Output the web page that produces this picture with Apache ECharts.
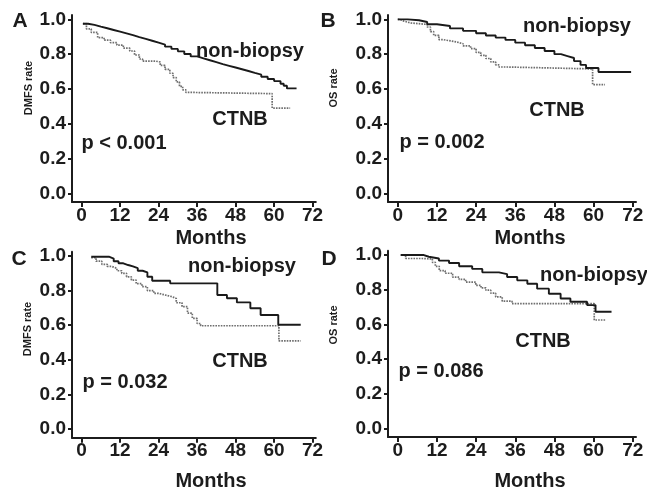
<!DOCTYPE html>
<html>
<head>
<meta charset="utf-8">
<script src="https://cdn.jsdelivr.net/npm/echarts@6/dist/echarts.min.js"></script>
<style>
html,body{margin:0;padding:0;background:#fff;}
#chart{width:647px;height:487px;}
</style>
</head>
<body>
<div id="chart"></div>
<script>
// ---------- DATA ----------
const xTicks = [0, 12, 24, 36, 48, 60, 72];
const yTicks = [0, 0.2, 0.4, 0.6, 0.8, 1.0];
const groupNames = ['non-biopsy', 'CTNB'];
const panelLetters = ['A', 'B', 'C', 'D'];
const yTitles = ['DMFS rate', 'OS rate', 'DMFS rate', 'OS rate'];
const pTexts = ['p < 0.001', 'p = 0.002', 'p = 0.032', 'p = 0.086'];

// Panel A (DMFS)
const aNonT = [0.4,2,4,6,8,10,12,14,16,18,20,22,24,26,28,30,32,34,36,38,40,42,44,46,48,50,52,54,56,58,60,62,63,64,67];
const aNonS = [0.975,0.968,0.958,0.949,0.939,0.929,0.919,0.909,0.898,0.888,0.877,0.866,0.855,0.843,0.830,0.816,0.801,0.787,0.776,0.765,0.754,0.743,0.733,0.723,0.713,0.703,0.692,0.682,0.670,0.657,0.645,0.630,0.618,0.603,0.603];
const aCtT = [0.4,1.5,3,5,7,9,11,13,15,16.5,18,19,23,24.5,26,27.5,28.5,29.5,30.5,31.5,32.5,34,59.4,65];
const aCtS = [0.975,0.945,0.925,0.895,0.880,0.866,0.852,0.835,0.818,0.795,0.772,0.760,0.755,0.735,0.712,0.690,0.665,0.640,0.615,0.595,0.580,0.573,0.490,0.490];

// Panel B (OS)
const bNonT = [0,3,6.5,9,12,16,20,24,27,30,33,36,39,42,45,48,50,52,54,56,57.7,61.5,71.5];
const bNonS = [1.0,0.995,0.985,0.972,0.962,0.948,0.934,0.920,0.907,0.895,0.882,0.866,0.851,0.835,0.818,0.800,0.789,0.778,0.760,0.738,0.720,0.697,0.697];
const bCtT = [0,0.8,1.8,4,6.5,9,10,11,12.6,14,16.2,18,20,22.3,24,25.4,27,28.5,30,31,33.6,59.7,63.5];
const bCtS = [1.0,0.990,0.979,0.975,0.971,0.956,0.930,0.908,0.883,0.876,0.870,0.860,0.848,0.832,0.810,0.793,0.775,0.755,0.738,0.726,0.715,0.625,0.625];

// Panel C (DMFS)
const cNonT = [3,8.5,10,11.5,13,14.5,16,17.5,19,20.5,22,27.6,42.3,45.3,48.4,52.6,55.8,61.3,68.3];
const cNonS = [0.996,0.985,0.970,0.958,0.948,0.940,0.930,0.915,0.905,0.880,0.857,0.842,0.775,0.756,0.732,0.698,0.659,0.603,0.603];
const cCtT = [3,4.5,6.3,8,9.4,11,12.5,14,15.5,17,18.8,20.5,22.5,24,26,28.2,29.5,31.3,33,34.5,36,37.1,61.5,68.3];
const cCtS = [0.990,0.970,0.952,0.940,0.929,0.915,0.900,0.880,0.861,0.840,0.823,0.800,0.784,0.775,0.765,0.755,0.730,0.707,0.670,0.640,0.610,0.597,0.510,0.510];

// Panel D (OS)
const dNonT = [0.9,8,9.5,12.6,15.7,18.8,22.8,25.9,31,33.5,36.6,39.7,42.7,46.3,49.9,52.9,58,60.6,65.5];
const dNonS = [1.0,0.990,0.980,0.968,0.954,0.935,0.920,0.900,0.890,0.873,0.854,0.834,0.806,0.777,0.749,0.730,0.711,0.673,0.673];
const dCtT = [0.9,2.4,7.5,10.6,11.5,12.7,14.5,16.8,18.8,20.8,23.9,25.5,27,28.5,30,32,35,60.2,63.8];
const dCtS = [1.0,0.980,0.977,0.958,0.935,0.910,0.895,0.873,0.860,0.844,0.825,0.810,0.797,0.780,0.758,0.734,0.720,0.625,0.625];

// ---------- LAYOUT ----------
const FONT = '"Liberation Sans", Arial, Helvetica, sans-serif';
const INK = '#1c1c1c';
const grids = [
  {left: 72, top: 15, width: 243.8, height: 187},
  {left: 388, top: 15, width: 248, height: 187},
  {left: 72, top: 251.7, width: 243.8, height: 186},
  {left: 388, top: 250.7, width: 248, height: 186.3}
];
const curves = [
  [[aNonT, aNonS], [aCtT, aCtS]],
  [[bNonT, bNonS], [bCtT, bCtS]],
  [[cNonT, cNonS], [cCtT, cCtS]],
  [[dNonT, dNonS], [dCtT, dCtS]]
];
// text positions
const letterPos = [[20, 21], [328, 21], [19, 259], [329, 259]];
const yTitlePos = [[29, 88], [334, 88], [28, 329], [334, 325]];
const monthsPos = [[211, 238], [530, 238], [211, 481], [530, 481]];
const nonPos = [[250, 51], [577, 26], [242, 266], [594, 275]];
const ctnbPos = [[240, 119], [557, 110], [240, 361], [543, 341]];
const pPos = [[124, 143], [442, 142], [125, 382], [441, 371]];

const zip = (t, s) => t.map((v, i) => [v, s[i]]);

const option = {
  animation: false,
  backgroundColor: '#ffffff',
  grid: grids.map(g => Object.assign({containLabel: false, outerBoundsMode: 'none'}, g)),
  xAxis: grids.map((g, i) => ({
    type: 'value', gridIndex: i, min: -3, max: 73,
    splitLine: {show: false},
    axisLine: {show: true, onZero: false, lineStyle: {color: INK, width: 2}},
    axisTick: {show: true, length: 5, lineStyle: {color: INK, width: 2}, customValues: xTicks},
    axisLabel: {show: true, customValues: xTicks, margin: 4, color: INK,
      fontFamily: FONT, fontWeight: 'bold', fontSize: 19}
  })),
  yAxis: grids.map((g, i) => ({
    type: 'value', gridIndex: i, min: -0.05, max: 1.025,
    splitLine: {show: false},
    axisLine: {show: true, onZero: false, lineStyle: {color: INK, width: 2}},
    axisTick: {show: true, length: 4, lineStyle: {color: INK, width: 2}, customValues: yTicks},
    axisLabel: {show: true, customValues: yTicks, margin: 6, color: INK,
      fontFamily: FONT, fontWeight: 'bold', fontSize: 19,
      formatter: v => v.toFixed(1)}
  })),
  series: [],
  graphic: []
};

curves.forEach((pc, i) => {
  option.series.push({
    name: groupNames[1], type: 'line', xAxisIndex: i, yAxisIndex: i,
    data: zip(pc[1][0], pc[1][1]), step: 'end', symbol: 'none', showSymbol: false,
    lineStyle: {color: '#6e6e6e', width: 1.7, type: [1.6, 1.1]}, z: 2
  });
  option.series.push({
    name: groupNames[0], type: 'line', xAxisIndex: i, yAxisIndex: i,
    data: zip(pc[0][0], pc[0][1]), step: 'end', symbol: 'none', showSymbol: false,
    lineStyle: {color: '#1a1a1a', width: 1.9}, z: 3
  });
});

function txt(text, pos, size, rot) {
  return {
    type: 'text', x: pos[0], y: pos[1], rotation: rot || 0, silent: true,
    style: {text: text, x: 0, y: 0, align: 'center', verticalAlign: 'middle',
      font: 'bold ' + size + 'px ' + FONT, fill: INK}
  };
}
for (let i = 0; i < 4; i++) {
  option.graphic.push(txt(panelLetters[i], letterPos[i], 21));
  option.graphic.push(txt(yTitles[i], yTitlePos[i], 11, Math.PI / 2));
  option.graphic.push(txt('Months', monthsPos[i], 20));
  option.graphic.push(txt(groupNames[0], nonPos[i], 20));
  option.graphic.push(txt(groupNames[1], ctnbPos[i], 20));
  option.graphic.push(txt(pTexts[i], pPos[i], 20));
}

const chart = echarts.init(document.getElementById('chart'), null, {renderer: 'canvas'});
chart.setOption(option);
</script>
</body>
</html>
